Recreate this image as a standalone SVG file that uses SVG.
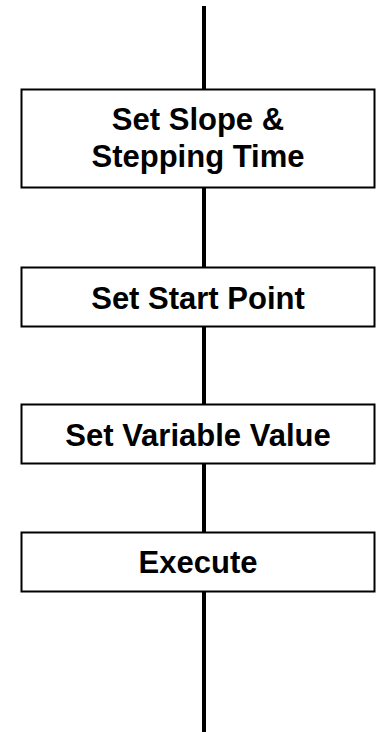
<svg xmlns="http://www.w3.org/2000/svg" width="380" height="732" viewBox="0 0 380 732">
<style>
.box{fill:#fff;stroke:#000;stroke-width:2}
.lbl{font-family:"Liberation Sans",Arial,sans-serif;font-weight:bold;font-size:31px;fill:#000;text-anchor:middle}
.conn{stroke:#000;stroke-width:4;fill:none}
</style>
<rect width="380" height="732" fill="#fff"/>
<g id="connectors">
<line class="conn" x1="204" y1="6" x2="204" y2="89"/>
<line class="conn" x1="204" y1="188" x2="204" y2="267"/>
<line class="conn" x1="204" y1="327" x2="204" y2="404"/>
<line class="conn" x1="204" y1="464" x2="204" y2="532"/>
<line class="conn" x1="204" y1="592" x2="204" y2="732"/>
</g>
<g id="node-slope">
<rect class="box" x="21.5" y="89.5" width="353" height="98"/>
<text class="lbl" x="198" y="130">Set Slope &amp;</text>
<text class="lbl" x="198" y="167">Stepping Time</text>
</g>
<g id="node-start">
<rect class="box" x="21.5" y="267.5" width="353" height="59"/>
<text class="lbl" x="198" y="309">Set Start Point</text>
</g>
<g id="node-variable">
<rect class="box" x="21.5" y="404.5" width="353" height="59"/>
<text class="lbl" x="198" y="446">Set Variable Value</text>
</g>
<g id="node-execute">
<rect class="box" x="21.5" y="532.5" width="353" height="59"/>
<text class="lbl" x="198" y="573">Execute</text>
</g>
</svg>
